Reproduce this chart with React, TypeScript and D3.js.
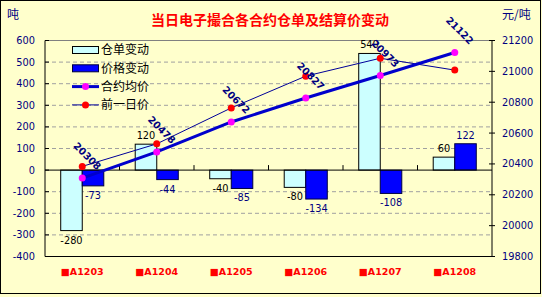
import React from "react";
import * as d3 from "d3";

const categories = ["■A1203", "■A1204", "■A1205", "■A1206", "■A1207", "■A1208"];
const receiptChange = [-280, 120, -40, -80, 540, 60];
const priceChange = [-73, -44, -85, -134, -108, 122];
const avgPrice = [20308, 20478, 20672, 20827, 20973, 21122];
const prevPrice = [20384, 20530, 20763, 20969, 21085, 21008];
const leftTicks = [-400, -300, -200, -100, 0, 100, 200, 300, 400, 500, 600];
const rightTicks = [19800, 20000, 20200, 20400, 20600, 20800, 21000, 21200];
const legendLabels = ["仓单变动", "价格变动", "合约均价", "前一日价"];

const W = 542, H = 297;
const L = 45, R = 492, T = 40.5, B = 256.5;
const numFont = "'DejaVu Sans', Verdana, sans-serif";
const cjkFont = "'Noto Sans CJK SC', sans-serif";
const navy = "#000080";

export default function App() {
  const x = d3.scaleBand<string>().domain(categories).range([L, R]).paddingInner(0).paddingOuter(0);
  const sub = d3.scaleBand<string>().domain(["a", "b"]).range([0, x.bandwidth()]).paddingInner(0).paddingOuter(0.73);
  const yL = d3.scaleLinear().domain([-400, 600]).range([B, T]);
  const yR = d3.scaleLinear().domain([19800, 21200]).range([B, T]);
  const cx = (c: string) => (x(c) as number) + x.bandwidth() / 2;
  const avgLine = d3.line<number>().x((_, i) => cx(categories[i])).y(d => yR(d));
  const y0 = yL(0);

  return (
    <svg width={W} height={H} style={{ position: "absolute", left: 0, top: 0 }}>
      <rect x={0} y={0} width={W} height={H} fill="#FFFFCC" />
      <rect x={0.5} y={0.5} width={540} height={293} fill="none" stroke="#000" />
      {/* gridlines */}
      {leftTicks.filter(t => t !== -400 && t !== 600 && t !== 0).map(t => (
        <line key={t} x1={L} x2={R} y1={yL(t)} y2={yL(t)} stroke="#A0A0A0" strokeDasharray="4,3" />
      ))}
      <line x1={L} x2={R} y1={yL(600)} y2={yL(600)} stroke="#808080" />
      {/* axes */}
      <line x1={L} x2={L} y1={T} y2={B} stroke="#000" />
      <line x1={R} x2={R} y1={T} y2={B} stroke="#000" />
      <line x1={L} x2={R} y1={B} y2={B} stroke="#000" />
      {leftTicks.map(t => (
        <g key={t}>
          <line x1={L} x2={L + 4} y1={yL(t)} y2={yL(t)} stroke="#000" />
          <text x={35} y={yL(t)} dy="0.35em" textAnchor="end" fontFamily={numFont} fontSize={9.8} fill={navy}>{t}</text>
        </g>
      ))}
      {rightTicks.map(t => (
        <g key={t}>
          <line x1={R - 3} x2={R + 3} y1={yR(t)} y2={yR(t)} stroke="#000" />
          <text x={502} y={yR(t)} dy="0.35em" textAnchor="start" fontFamily={numFont} fontSize={9.8} fill={navy}>{t}</text>
        </g>
      ))}
      {/* bars */}
      {categories.map((c, i) => {
        const bx = (x(c) as number) + (sub("a") as number);
        const v = receiptChange[i];
        return (
          <rect key={"a" + c} x={bx} width={sub.bandwidth()} y={Math.min(yL(v), y0)} height={Math.abs(yL(v) - y0)} fill="#CCFFFF" stroke="#000" strokeWidth={1} />
        );
      })}
      {categories.map((c, i) => {
        const bx = (x(c) as number) + (sub("b") as number);
        const v = priceChange[i];
        return (
          <rect key={"b" + c} x={bx} width={sub.bandwidth()} y={Math.min(yL(v), y0)} height={Math.abs(yL(v) - y0)} fill="#0000FF" stroke="#000040" strokeWidth={1} />
        );
      })}
      {/* zero axis */}
      <line x1={L} x2={R} y1={y0} y2={y0} stroke="#000" />
      {categories.slice(1).map(c => (
        <line key={"zt" + c} x1={x(c) as number} x2={x(c) as number} y1={y0 - 5} y2={y0} stroke="#000" />
      ))}
      {/* bar labels */}
      {categories.map((c, i) => {
        const bx = (x(c) as number) + (sub("a") as number) + sub.bandwidth() / 2;
        const v = receiptChange[i];
        const ly = v >= 0 ? yL(v) - 5 : yL(v) + 13;
        return <text key={"la" + c} x={bx} y={ly} textAnchor="middle" fontFamily={numFont} fontSize={9.8} fill="#000">{v}</text>;
      })}
      {categories.map((c, i) => {
        const bx = (x(c) as number) + (sub("b") as number) + sub.bandwidth() / 2;
        const v = priceChange[i];
        const ly = v >= 0 ? yL(v) - 5 : yL(v) + 13;
        return <text key={"lb" + c} x={bx} y={ly} textAnchor="middle" fontFamily={numFont} fontSize={9.8} fill={navy}>{v}</text>;
      })}
      {/* lines */}
      <path d={avgLine(prevPrice) as string} fill="none" stroke="#000099" strokeWidth={1} />
      <path d={avgLine(avgPrice) as string} fill="none" stroke="#0000CC" strokeWidth={3} />
      {prevPrice.map((v, i) => (
        <circle key={"pp" + i} cx={cx(categories[i])} cy={yR(v)} r={3.5} fill="#FF0000" />
      ))}
      {avgPrice.map((v, i) => (
        <circle key={"ap" + i} cx={cx(categories[i])} cy={yR(v)} r={3.5} fill="#FF00FF" />
      ))}
      {avgPrice.map((v, i) => {
        const px = cx(categories[i]) + 5;
        const py = yR(v) - 22;
        return (
          <text key={"al" + i} transform={`translate(${px},${py}) rotate(45)`} textAnchor="middle" dy="0.35em" fontFamily={numFont} fontSize={9.8} fontWeight="bold" fill={navy}>{v}</text>
        );
      })}
      {/* x labels */}
      {categories.map(c => (
        <text key={"xl" + c} x={cx(c)} y={272} dy="0.35em" textAnchor="middle" fontFamily={numFont} fontSize={9.5} fontWeight="bold" fill="#FF0000">{c}</text>
      ))}
      {/* titles */}
      <text x={270} y={20} dy="0.35em" textAnchor="middle" fontFamily={cjkFont} fontSize={14} fontWeight="bold" fill="#FF0000">当日电子撮合各合约仓单及结算价变动</text>
      <text x={7} y={15} dy="0.35em" fontFamily={cjkFont} fontSize={12} fill={navy}>吨</text>
      <text x={502} y={15} dy="0.35em" fontFamily={cjkFont} fontSize={12} fill={navy}>元/吨</text>
      {/* legend */}
      {legendLabels.map((lab, i) => {
        const ly = 50 + i * 18.3;
        return (
          <g key={lab}>
            {i === 0 && <rect x={72.5} y={ly - 3.5} width={26} height={7} fill="#CCFFFF" stroke="#000" />}
            {i === 1 && <rect x={72.5} y={ly - 3.5} width={26} height={7} fill="#0000FF" stroke="#000040" />}
            {i === 2 && (<>
              <line x1={72} x2={99} y1={ly} y2={ly} stroke="#0000CC" strokeWidth={3} />
              <circle cx={85.5} cy={ly} r={3.5} fill="#FF00FF" />
            </>)}
            {i === 3 && (<>
              <line x1={72} x2={99} y1={ly} y2={ly} stroke="#000099" strokeWidth={1} />
              <circle cx={85.5} cy={ly} r={3.5} fill="#FF0000" />
            </>)}
            <text x={101} y={ly} dy="0.35em" fontFamily={cjkFont} fontSize={12} fill="#000">{lab}</text>
          </g>
        );
      })}
    </svg>
  );
}
